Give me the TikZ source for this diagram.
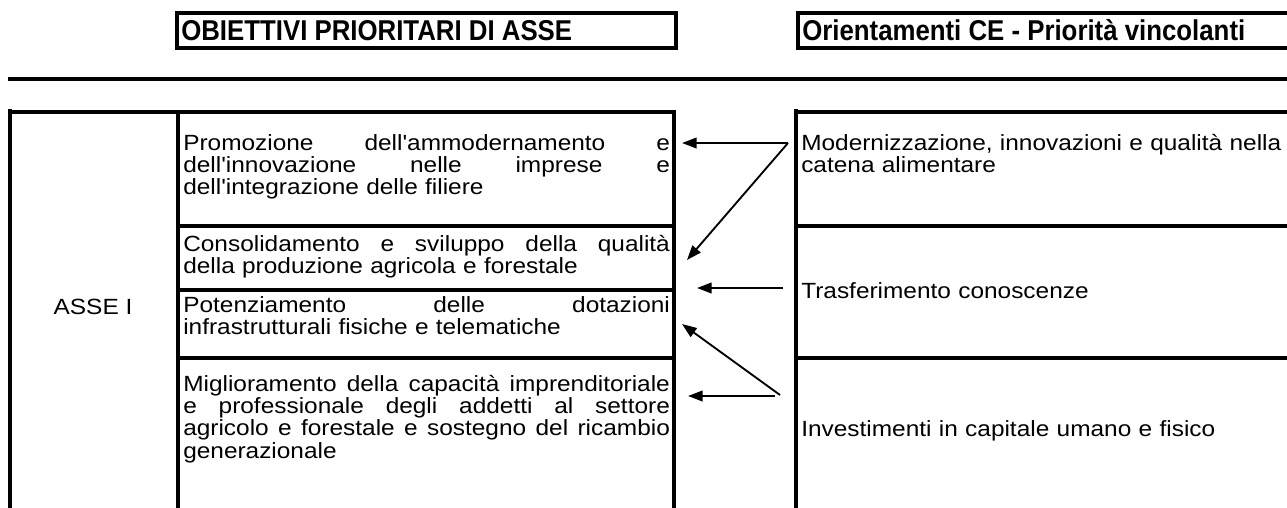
\documentclass[tikz,border=0pt]{standalone}
\usepackage{fontspec}
\newfontfamily\arial[FakeStretch=1.11]{Liberation Sans}
\newfontfamily\arialnarrow[FakeStretch=0.9]{Liberation Sans}
\usetikzlibrary{arrows.meta}

\tikzset{
  rule/.style={line width=3pt},
  frame/.style={line width=2.6pt},
  hdr/.style={font={\arialnarrow\bfseries\fontsize{21.5}{24}\selectfont},anchor=base west,inner sep=0pt},
  cell/.style={font={\arial\fontsize{16.5}{16.8}\selectfont},anchor=base west,inner sep=0pt,text width=365pt,align=left},
  link/.style={line width=1.4pt,-{Triangle[length=11pt,width=8pt]}},
}
\newcommand{\jline}[1]{{\spaceskip=0pt\xspaceskip=0pt\makebox[365pt][s]{#1}}}

\begin{document}
\begin{tikzpicture}[x=0.75pt,y=-0.75pt]
  \useasboundingbox (0,0) rectangle (1287,507);
  \clip (0,0) rectangle (1287,507);

  %coordinates
  \coordinate (srcMod) at (788,143);
  \coordinate (srcTra) at (783,288);
  \coordinate (srcInvA) at (780,395);
  \coordinate (srcInvB) at (775,396);
  \coordinate (tgtPro) at (682,143);
  \coordinate (tgtCon) at (687,260);
  \coordinate (tgtTra) at (697,288);
  \coordinate (tgtPot) at (682,324);
  \coordinate (tgtMig) at (688,396);

  %header boxes
  \draw[frame] (177,13) rectangle (676,48);
  \draw[frame] (798,13) rectangle (1300,48);
  \node[hdr] (hObj) at (181,40) {OBIETTIVI PRIORITARI DI ASSE};
  \node[hdr] (hOri) at (802,40) {Orientamenti CE - Priorità vincolanti};

  %separator
  \draw[rule] (8,79) -- (1300,79);

  %left table
  \draw[rule] (10,109) -- (10,510);
  \draw[rule] (10,112) -- (676,112);
  \draw[rule] (178,112) -- (178,510);
  \draw[rule] (674,112) -- (674,510);
  \foreach \y in {226,290,358}
    \draw[rule] (178,\y) -- (674,\y);

  %right table
  \draw[rule] (796,109) -- (796,510);
  \draw[rule] (796,112) -- (1300,112);
  \foreach \y in {226,358}
    \draw[rule] (796,\y) -- (1300,\y);

  %axis label
  \node[cell,text width=,anchor=base] (asse) at (93,314) {ASSE I};

  %objectives
  \node[cell] (pro) at (183,150) {\jline{Promozione dell'ammodernamento e}\\
    \jline{dell'innovazione nelle imprese e}\\
    dell'integrazione delle filiere};
  \node[cell] (con) at (183,251) {\jline{Consolidamento e sviluppo della qualità}\\
    della produzione agricola e forestale};
  \node[cell] (pot) at (183,312) {\jline{Potenziamento delle dotazioni}\\
    infrastrutturali fisiche e telematiche};
  \node[cell] (mig) at (183,391) {\jline{Miglioramento della capacità imprenditoriale}\\
    \jline{e professionale degli addetti al settore}\\
    \jline{agricolo e forestale e sostegno del ricambio}\\
    generazionale};

  %priorities
  \node[cell] (mod) at (801,150) {Modernizzazione, innovazioni e qualità nella\\
    catena alimentare};
  \node[cell] (tra) at (801,298) {Trasferimento conoscenze};
  \node[cell] (inv) at (801,436) {Investimenti in capitale umano e fisico};

  %arrows
  \draw[link] (srcMod) -- (tgtPro);
  \draw[link] (srcMod) -- (tgtCon);
  \draw[link] (srcTra) -- (tgtTra);
  \draw[link] (srcInvA) -- (tgtPot);
  \draw[link] (srcInvB) -- (tgtMig);
\end{tikzpicture}
\end{document}
